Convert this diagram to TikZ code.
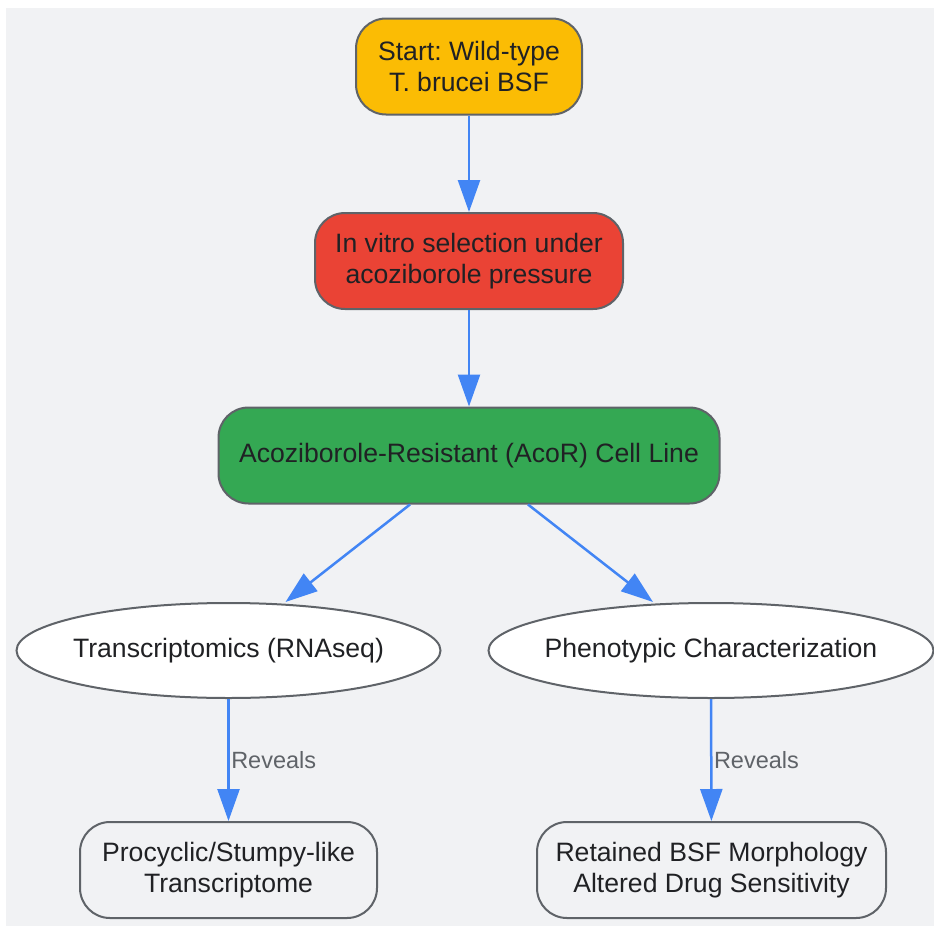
\documentclass[tikz,border=0pt]{standalone}
\usepackage{fontspec}
\setmainfont{Liberation Sans}
\usetikzlibrary{arrows.meta,shapes.geometric}
\definecolor{bgray}{HTML}{F1F2F4}
\definecolor{edge}{HTML}{5F6368}
\definecolor{ink}{HTML}{202124}
\definecolor{startc}{HTML}{FBBC04}
\definecolor{selc}{HTML}{EA4335}
\definecolor{resc}{HTML}{34A853}
\definecolor{arrc}{HTML}{4285F4}
\frenchspacing
\begin{document}
\begin{tikzpicture}[x=1pt, y=-1pt,
  box/.style={draw=edge, line width=2pt, rounded corners=30pt, align=center,
    text=ink, inner sep=0pt, minimum height=96pt, font=\fontsize{26.6}{31.5}\selectfont},
  oval/.style={ellipse, draw=edge, line width=2pt, fill=white, text=ink,
    inner sep=0pt, inner xsep=-30pt, minimum height=95pt, font=\fontsize{26.6}{31.5}\selectfont},
  arr/.style={draw=arrc, line width=2.5pt, -{Triangle[length=32pt,width=22pt]}},
  lbl/.style={text=edge, inner sep=1.5pt, font=\fontsize{23.5}{28}\selectfont}]
\useasboundingbox (0,0) rectangle (934,926);
\fill[bgray] (6,8) rectangle (934,926);

\node[box, fill=startc, minimum width=226pt] (S) at (469,66.5){Start: Wild-type\\T. brucei BSF};
\node[box, fill=selc, minimum width=308pt] (V) at (469,261){In vitro selection under\\acoziborole pressure};
\node[box, fill=resc, minimum width=501pt] (R) at (469,455.5){Acoziborole-Resistant (AcoR) Cell Line};
\node[oval, minimum width=424pt] (T) at (228.5,650.5){Transcriptomics (RNAseq)};
\node[oval, minimum width=445pt] (P) at (711,650.5){Phenotypic Characterization};
\node[box, fill=bgray, minimum width=297pt] (PS) at (228.5,870){Procyclic/Stumpy-like\\Transcriptome};
\node[box, fill=bgray, minimum width=349pt] (BM) at (711.5,870){Retained BSF Morphology\\Altered Drug Sensitivity};

\draw[arr] (S)--(V);
\draw[arr] (V)--(R);
\draw[arr] ([xshift=-59pt]R.south)--([xshift=57pt]T.north);
\draw[arr] ([xshift=59pt]R.south)--([xshift=-58pt]P.north);
\draw[arr] (T)--node[lbl, right]{Reveals}(PS);
\draw[arr] (P)--node[lbl, right]{Reveals}(BM);

\end{tikzpicture}
\end{document}
